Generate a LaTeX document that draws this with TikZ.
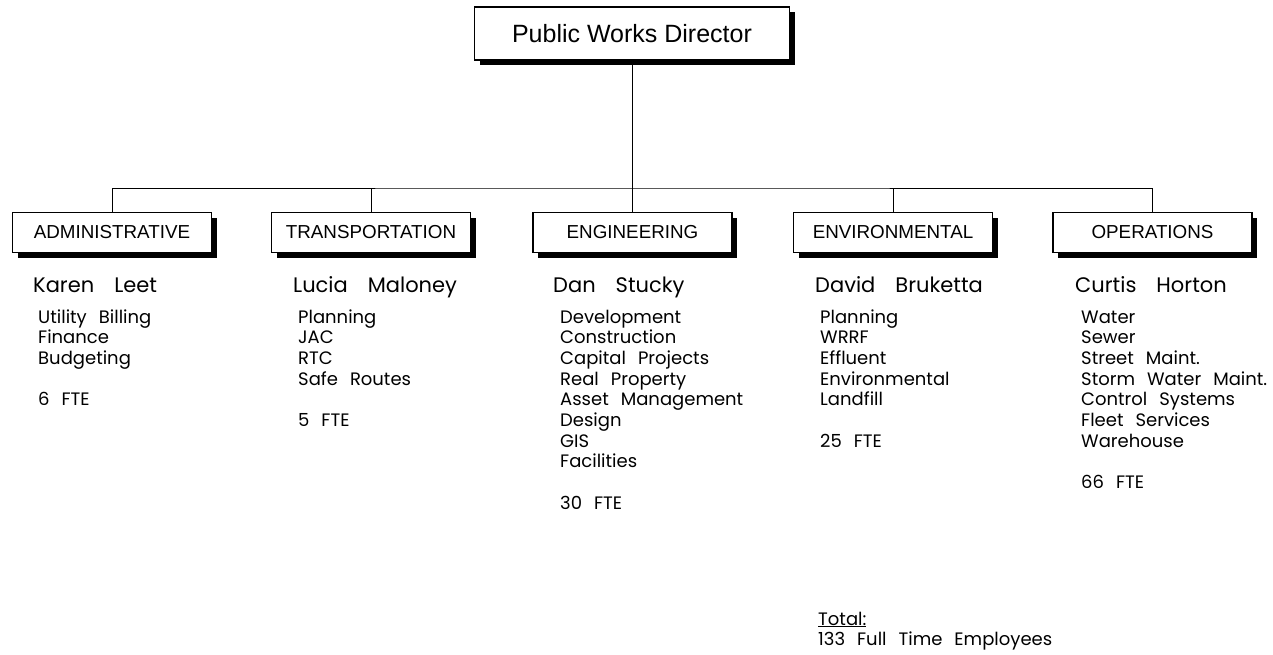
\documentclass[tikz,border=0pt]{standalone}
\usepackage{fontspec}
\setmainfont{Liberation Sans}
\newfontfamily\listfont{Poppins}
\newcommand\headfont{\listfont\fontsize{21}{24}\selectfont\spaceskip=20pt\relax}
\newcommand\dutyfont{\listfont\fontsize{18}{20.7}\selectfont\spaceskip=12pt\relax}
\usetikzlibrary{shadows}

\begin{document}
\begin{tikzpicture}[
    x=1pt, y=-1pt,
    every node/.style={inner sep=0pt},
    unit/.style={draw, line width=1.2pt, fill=white,
        minimum width=199pt, minimum height=40pt,
        font=\fontsize{18.8}{20}\selectfont,
        drop shadow={shadow xshift=5pt, shadow yshift=-5pt, fill=black, opacity=1}},
    head/.style={font=\headfont, anchor=base west},
    duty/.style={font=\dutyfont, anchor=base west}
]
    \useasboundingbox (0,0) rectangle (1273,654);

    % 1. Director and divisions
    \node[unit, minimum width=315pt, minimum height=53pt,
          font=\fontsize{25}{28}\selectfont] (director) at (632,33.5) {Public Works Director};
    \node[unit] (admin) at (112,232.5) {ADMINISTRATIVE};
    \node[unit] (trans) at (371,232.5) {TRANSPORTATION};
    \node[unit] (eng) at (632.5,232.5) {ENGINEERING};
    \node[unit] (env) at (893,232.5) {ENVIRONMENTAL};
    \node[unit] (ops) at (1152.5,232.5) {OPERATIONS};

    % 2. Draw the connectors
    \coordinate (bus) at (632.5,188);
    \draw[line width=0.9pt] (director.south -| bus) -- (bus);
    \draw[line width=0.9pt] (admin.north) |- (bus) -| (ops.north);
    \foreach \d in {trans,eng,env}
        \draw[line width=0.9pt] (\d.north) -- (\d.north |- bus);

    % 3. Heads of division
    \node[head] (karen) at (33,292) {Karen Leet};
    \node[head] (lucia) at (293,292) {Lucia Maloney};
    \node[head] (dan) at (553,292) {Dan Stucky};
    \node[head] (david) at (815,292) {David Bruketta};
    \node[head] (curtis) at (1075,292) {Curtis Horton};

    % 4. Duties and staff
    \foreach \t [count=\i from 0] in {Utility Billing, Finance, Budgeting}
        \node[duty] (admin-\i) at (38,323+20.7*\i) {\t};
    \node[duty] (admin-fte) at (38,323+20.7*4) {6 FTE};

    \foreach \t [count=\i from 0] in {Planning, JAC, RTC, Safe Routes}
        \node[duty] (trans-\i) at (298,323+20.7*\i) {\t};
    \node[duty] (trans-fte) at (298,323+20.7*5) {5 FTE};

    \foreach \t [count=\i from 0] in {Development, Construction, Capital Projects,
            Real Property, Asset Management, Design, GIS, Facilities}
        \node[duty] (eng-\i) at (560,323+20.7*\i) {\t};
    \node[duty] (eng-fte) at (560,323+20.7*9) {30 FTE};

    \foreach \t [count=\i from 0] in {Planning, WRRF, Effluent, Environmental, Landfill}
        \node[duty] (env-\i) at (820,323+20.7*\i) {\t};
    \node[duty] (env-fte) at (820,323+20.7*6) {25 FTE};

    \foreach \t [count=\i from 0] in {Water, Sewer, Street Maint., Storm Water Maint.,
            Control Systems, Fleet Services, Warehouse}
        \node[duty] (ops-\i) at (1081,323+20.7*\i) {\t};
    \node[duty] (ops-fte) at (1081,323+20.7*8) {66 FTE};

    % Total at the bottom
    \node[duty] (total) at (818,625) {\underline{Total:}};
    \node[duty] (employees) at (818,645) {133 Full Time Employees};

\end{tikzpicture}
\end{document}
